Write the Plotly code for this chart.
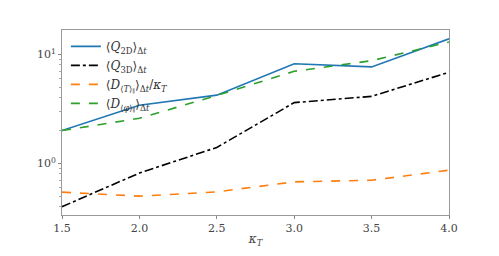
import plotly.graph_objects as go

kappa = [1.5, 2.0, 2.5, 3.0, 3.5, 4.0]
q2d = [2.0, 3.42, 4.23, 8.2, 7.68, 13.9]
q3d = [0.40, 0.815, 1.40, 3.61, 4.12, 6.86]
dT = [0.544, 0.50, 0.548, 0.676, 0.70, 0.865]
dphi = [2.0, 2.59, 4.2, 7.0, 8.75, 13.0]

names = [
    "⟨<i>Q</i><sub>2D</sub>⟩<sub>Δ<i>t</i></sub>",
    "⟨<i>Q</i><sub>3D</sub>⟩<sub>Δ<i>t</i></sub>",
    "⟨<i>D</i><sub>⟨<i>T</i>⟩<sub>∥</sub></sub>⟩<sub>Δ<i>t</i></sub>/<i>κ</i><sub><i>T</i></sub>",
    "⟨<i>D</i><sub>⟨<i>φ</i>⟩<sub>∥</sub></sub>⟩<sub>Δ<i>t</i></sub>",
]
series = [q2d, q3d, dT, dphi]
colors = ["#1f77b4", "#000000", "#ff7f0e", "#2ca02c"]
dashes = ["solid", "dashdot", "dash", "dash"]

fig = go.Figure()
for i, (n, s, c, d) in enumerate(zip(names, series, colors, dashes)):
    fig.add_trace(go.Scatter(x=kappa, y=s, mode="lines", name=n, legendgroup=f"g{i}",
                             line=dict(color=c, width=1.6, dash=d)))

fam = "'DejaVu Serif', 'Liberation Serif', serif"
fig.update_layout(
    width=491, height=248,
    margin=dict(l=54, r=50, t=22, b=29),
    paper_bgcolor="white", plot_bgcolor="white",
    font=dict(family=fam, size=11, color="#444"),
    showlegend=True,
    legend=dict(x=0.01, y=0.99, xanchor="left", yanchor="top",
                bgcolor="rgba(0,0,0,0)", font=dict(family=fam, size=12, color="#333"),
                tracegroupgap=0, itemwidth=30),
    xaxis=dict(range=[1.5, 4.0], tickvals=[1.5, 2.0, 2.5, 3.0, 3.5, 4.0],
               ticktext=["1.5", "2.0", "2.5", "3.0", "3.5", "4.0"],
               ticks="outside", ticklen=3, tickcolor="#888", showgrid=False, zeroline=False,
               showline=True, linecolor="#999", linewidth=1, mirror=True,
               title=dict(text="<i>κ</i><sub><i>T</i></sub>", standoff=0, font=dict(size=12))),
    yaxis=dict(type="log", range=[-0.474, 1.224], tickvals=[1, 10],
               ticktext=["10<sup>0</sup>", "10<sup>1</sup>"],
               ticks="outside", ticklen=3, tickcolor="#888", showgrid=False, zeroline=False,
               showline=True, linecolor="#999", linewidth=1, mirror=True,
               minor=dict(ticks="outside", ticklen=2, tickcolor="#aaa", dtick="D1", showgrid=False)),
)
fig.write_html("out.html")
